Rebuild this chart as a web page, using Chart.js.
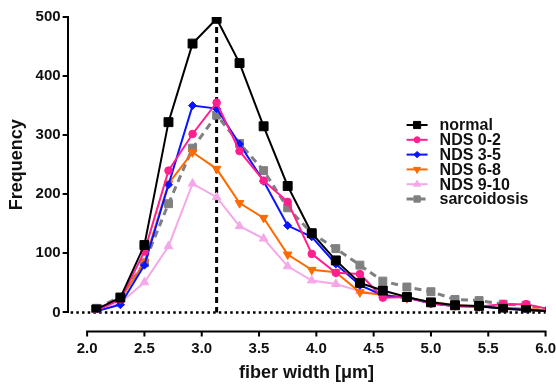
<!DOCTYPE html>
<html>
<head>
<meta charset="utf-8">
<script src="https://cdn.jsdelivr.net/npm/chart.js@4.4.0/dist/chart.umd.min.js"></script>
<style>
  html, body { margin: 0; padding: 0; background: #fff; overflow: hidden; }
  #wrap { width: 556px; height: 384px; }
</style>
</head>
<body>
<div id="wrap"><canvas id="fiberChart"></canvas></div>
<script>
// fiber width bins (µm)
const widths = [2.08, 2.29, 2.50, 2.71, 2.92, 3.13, 3.33, 3.54, 3.75, 3.96,
                4.17, 4.38, 4.58, 4.79, 5.00, 5.21, 5.42, 5.63, 5.83, 6.04];

// frequency per group
const normal      = [5, 25, 114, 322, 455, 497, 422, 315, 214, 134, 88, 50, 37, 26, 17, 12, 11, 6, 4, 2];
const nds0to2     = [3, 22, 103, 240, 302, 355, 273, 223, 187, 99, 67, 65, 25, 26, 15, 11, 10, 14, 14, 5];
const nds3to5     = [2, 13, 80, 216, 350, 345, 285, 222, 147, 128, 82, 46, 29, 25, 15, 11, 10, 7, 4, 2];
const nds6to8     = [5, 22, 85, 218, 271, 243, 185, 160, 98, 72, 68, 34, 30, 24, 18, 12, 10, 8, 6, 3];
const nds9to10    = [3, 16, 51, 112, 218, 195, 146, 125, 78, 54, 48, 36, 30, 25, 15, 10, 9, 8, 6, 3];
const sarcoidosis = [7, 26, 84, 184, 278, 334, 286, 240, 177, 134, 108, 80, 53, 43, 35, 22, 20, 14, 12, 5];

const xTicks = [2.0, 2.5, 3.0, 3.5, 4.0, 4.5, 5.0, 5.5, 6.0];
const yTicks = [0, 100, 200, 300, 400, 500];
const peakWidth = 3.13;

const FONT = '"Liberation Sans", Arial, Helvetica, sans-serif';

function pts(values) {
  return values.map((v, i) => ({ x: widths[i], y: v }));
}

function series(label, values, color, style, radius, extra) {
  return Object.assign({
    label: label,
    data: pts(values),
    borderColor: color,
    backgroundColor: color,
    pointBackgroundColor: color,
    pointBorderColor: color,
    borderWidth: 2,
    pointStyle: style,
    pointRadius: radius,
    pointBorderWidth: 1,
    tension: 0
  }, extra || {});
}

// dotted zero line + dashed line at the peak
const refLines = {
  id: 'refLines',
  beforeDatasetsDraw(chart) {
    const { ctx, chartArea, scales } = chart;
    const y0 = scales.y.getPixelForValue(0);
    const xp = scales.x.getPixelForValue(peakWidth);
    ctx.save();
    ctx.strokeStyle = '#000';
    ctx.lineWidth = 2.5;
    ctx.setLineDash([2.5, 3.2]);
    ctx.beginPath();
    ctx.moveTo(chartArea.left + 3, y0);
    ctx.lineTo(chartArea.right, y0);
    ctx.stroke();
    ctx.lineWidth = 3;
    ctx.setLineDash([6, 4]);
    ctx.beginPath();
    ctx.moveTo(xp, scales.y.getPixelForValue(500));
    ctx.lineTo(xp, y0);
    ctx.stroke();
    ctx.restore();
  }
};

// detached x axis line, from 2.0 to 6.0
const xAxisLine = {
  id: 'xAxisLine',
  afterDraw(chart) {
    const { ctx, chartArea, scales } = chart;
    const y = chartArea.bottom + 19;
    const a = scales.x.getPixelForValue(xTicks[0]);
    const b = scales.x.getPixelForValue(xTicks[xTicks.length - 1]);
    ctx.save();
    ctx.strokeStyle = '#000';
    ctx.lineWidth = 2;
    ctx.beginPath();
    ctx.moveTo(a - 1, y);
    ctx.lineTo(b + 1, y);
    xTicks.forEach(t => {
      const px = scales.x.getPixelForValue(t);
      ctx.moveTo(px, y);
      ctx.lineTo(px, y + 5);
    });
    ctx.stroke();
    ctx.restore();
  }
};

// legend inside the plot, upper right
const insideLegend = {
  id: 'insideLegend',
  afterDraw(chart) {
    const { ctx, chartArea } = chart;
    const x0 = chartArea.right - 139;
    const top = chartArea.top + 108;
    ctx.save();
    ctx.font = 'bold 16px ' + FONT;
    ctx.textBaseline = 'middle';
    chart.data.datasets.forEach((ds, i) => {
      const y = top + i * 14.8;
      ctx.strokeStyle = ds.borderColor;
      ctx.fillStyle = ds.borderColor;
      ctx.lineWidth = ds.borderWidth;
      ctx.setLineDash(ds.borderDash || []);
      ctx.beginPath();
      ctx.moveTo(x0, y);
      ctx.lineTo(x0 + 21, y);
      ctx.stroke();
      ctx.setLineDash([]);
      ctx.lineWidth = 1;
      Chart.helpers.drawPoint(ctx, {
        pointStyle: ds.pointStyle,
        rotation: ds.pointRotation || 0,
        radius: ds.pointRadius * 0.8,
        borderWidth: 1
      }, x0 + 10.5, y);
      ctx.fillStyle = '#111';
      ctx.fillText(ds.label, x0 + 33, y + 1);
    });
    ctx.restore();
  }
};

new Chart(document.getElementById('fiberChart'), {
  type: 'line',
  data: {
    datasets: [
      series('normal', normal, '#000000', 'rect', 6.3),
      series('NDS 0-2', nds0to2, '#ff1f8e', 'circle', 3.8),
      series('NDS 3-5', nds3to5, '#0a14ff', 'rectRot', 4),
      series('NDS 6-8', nds6to8, '#ff6a00', 'triangle', 5, { pointRotation: 180 }),
      series('NDS 9-10', nds9to10, '#f5a8e8', 'triangle', 5),
      series('sarcoidosis', sarcoidosis, '#808080', 'rect', 5.6, { borderWidth: 3, borderDash: [7, 5] })
    ]
  },
  options: {
    responsive: true,
    maintainAspectRatio: false,
    animation: false,
    layout: { padding: { left: 6, top: 17, right: 0, bottom: 0 } },
    plugins: {
      legend: { display: false },
      tooltip: { enabled: false }
    },
    scales: {
      x: {
        type: 'linear',
        min: 1.83,
        max: 6.0,
        afterBuildTicks: axis => { axis.ticks = xTicks.map(v => ({ value: v })); },
        grid: { display: false, drawTicks: true, tickLength: 27 },
        border: { display: false },
        ticks: {
          color: '#111',
          padding: 0,
          maxRotation: 0,
          font: { family: FONT, size: 15, weight: 'bold' },
          callback: v => v.toFixed(1)
        },
        title: {
          display: true,
          text: 'fiber width [μm]',
          color: '#111',
          padding: { top: 5, bottom: 0 },
          font: { family: FONT, size: 18, weight: 'bold' }
        }
      },
      y: {
        min: 0,
        max: 500,
        afterBuildTicks: axis => { axis.ticks = yTicks.map(v => ({ value: v })); },
        grid: { drawOnChartArea: false, drawTicks: true, tickLength: 5, color: '#000', lineWidth: 2 },
        border: { display: true, color: '#000', width: 2 },
        ticks: {
          color: '#111',
          padding: 2,
          font: { family: FONT, size: 15, weight: 'bold' }
        },
        title: {
          display: true,
          text: 'Frequency',
          color: '#111',
          padding: { top: 0, bottom: 6 },
          font: { family: FONT, size: 18, weight: 'bold' }
        }
      }
    }
  },
  plugins: [refLines, xAxisLine, insideLegend]
});
</script>
</body>
</html>
